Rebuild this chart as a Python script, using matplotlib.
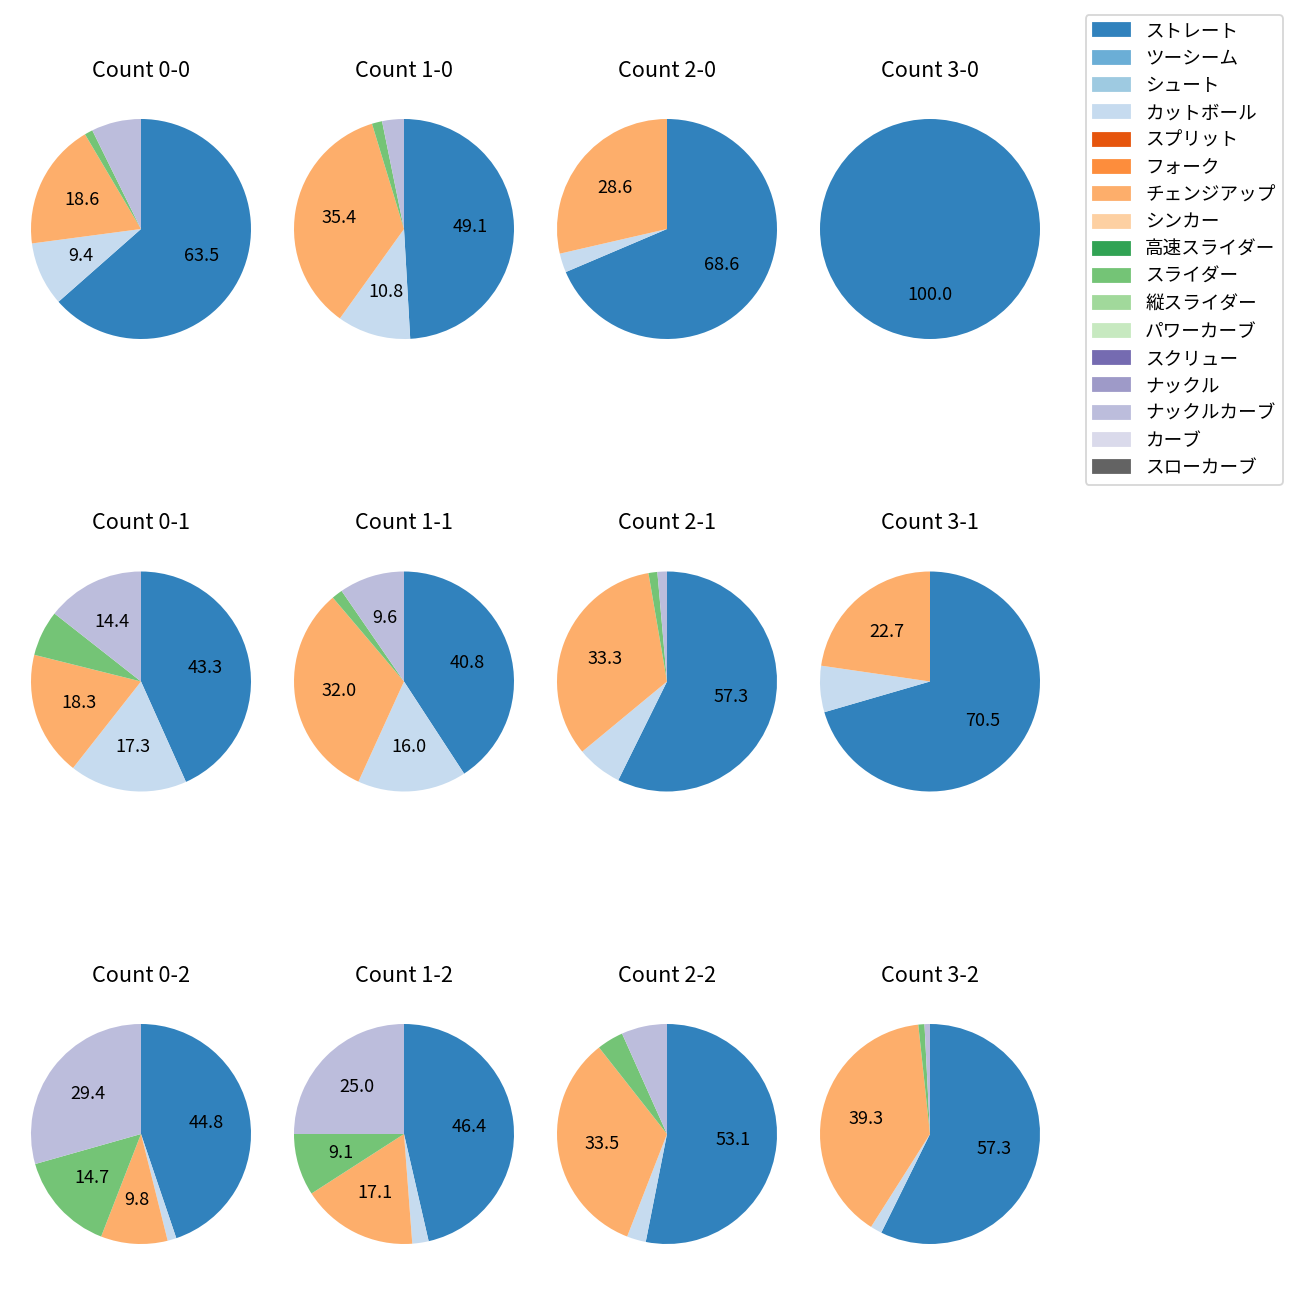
import matplotlib
matplotlib.use('Agg')
import matplotlib.pyplot as plt
import matplotlib.patches as mpatches

plt.rcParams['font.family'] = ['Noto Sans CJK JP', 'DejaVu Sans']

# all pitch types shown in the legend (tab20c order)
pitch_types = ['ストレート', 'ツーシーム', 'シュート', 'カットボール', 'スプリット',
               'フォーク', 'チェンジアップ', 'シンカー', '高速スライダー', 'スライダー',
               '縦スライダー', 'パワーカーブ', 'スクリュー', 'ナックル', 'ナックルカーブ',
               'カーブ', 'スローカーブ']

# pitch types that actually appear in the pies (index into pitch_types)
used = [0, 3, 6, 9, 14]  # ストレート, カットボール, チェンジアップ, スライダー, ナックルカーブ

counts = ['0-0', '1-0', '2-0', '3-0',
          '0-1', '1-1', '2-1', '3-1',
          '0-2', '1-2', '2-2', '3-2']

# share (%) per count, in order of `used`
c_0_0 = [63.5, 9.4, 18.6, 1.2, 7.3]
c_1_0 = [49.1, 10.8, 35.4, 1.5, 3.2]
c_2_0 = [68.6, 2.8, 28.6, 0.0, 0.0]
c_3_0 = [100.0, 0.0, 0.0, 0.0, 0.0]
c_0_1 = [43.3, 17.3, 18.3, 6.7, 14.4]
c_1_1 = [40.8, 16.0, 32.0, 1.6, 9.6]
c_2_1 = [57.3, 6.7, 33.3, 1.3, 1.4]
c_3_1 = [70.5, 6.8, 22.7, 0.0, 0.0]
c_0_2 = [44.8, 1.3, 9.8, 14.7, 29.4]
c_1_2 = [46.4, 2.4, 17.1, 9.1, 25.0]
c_2_2 = [53.1, 2.8, 33.5, 3.9, 6.7]
c_3_2 = [57.3, 1.7, 39.3, 0.9, 0.8]

shares = [c_0_0, c_1_0, c_2_0, c_3_0,
          c_0_1, c_1_1, c_2_1, c_3_1,
          c_0_2, c_1_2, c_2_2, c_3_2]

cmap = plt.get_cmap('tab20c')
colors = [cmap(i) for i in range(len(pitch_types))]

fig = plt.figure(figsize=(10, 10), dpi=130)
W = H = 1300.0
axw, axh = 275.0, 290.0

for k, (cnt, vals) in enumerate(zip(counts, shares)):
    row, col = divmod(k, 4)
    cx = 141 + 263 * col
    cy = 229 + 452.5 * row
    ax = fig.add_axes([(cx - axw / 2) / W, 1 - (cy + axh / 2) / H, axw / W, axh / H])
    sizes = [v for v in vals if v > 0]
    cols = [colors[used[i]] for i, v in enumerate(vals) if v > 0]
    ax.pie(sizes, colors=cols, startangle=90, counterclock=False,
           autopct=lambda p: f'{p:.1f}' if p > 8 else '')
    ax.set_title(f'Count {cnt}', fontsize=12, pad=8.2)

# legend with every pitch type
handles = [mpatches.Patch(color=colors[i]) for i in range(len(pitch_types))]
fig.legend(handles, pitch_types, loc='upper right', fontsize=10.3,
           bbox_to_anchor=(1283 / W, 1 - 15 / H), borderaxespad=0)

fig.savefig('out.png', dpi=130)
